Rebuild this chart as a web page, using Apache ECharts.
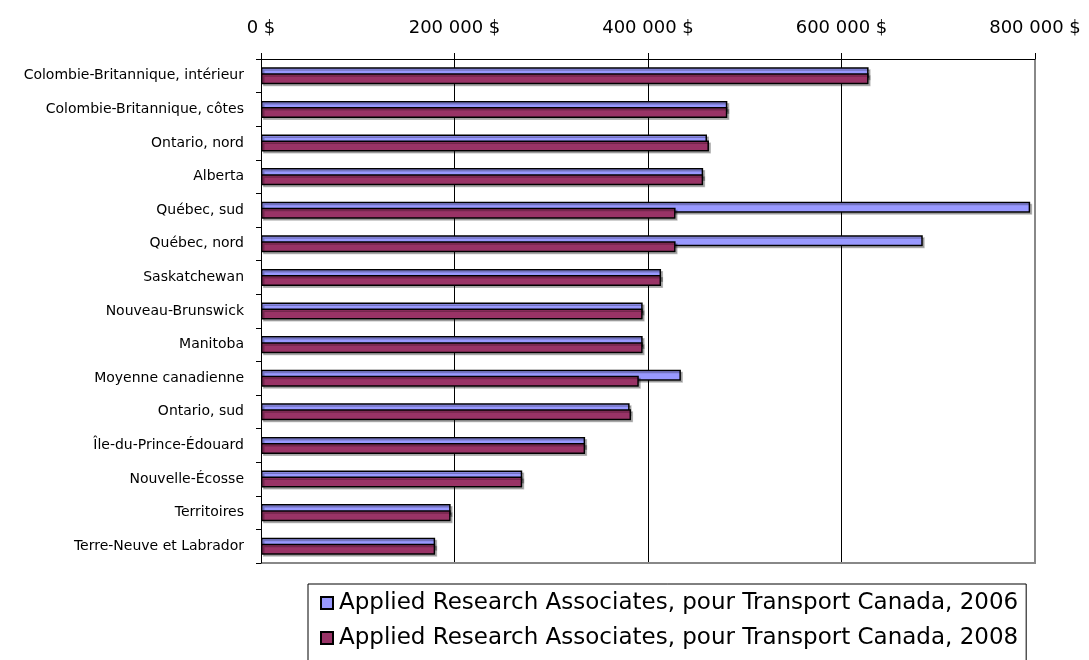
<!DOCTYPE html>
<html>
<head>
<meta charset="utf-8">
<script src="https://cdn.jsdelivr.net/npm/echarts@6/dist/echarts.min.js"></script>
<style>
  html, body { margin: 0; padding: 0; background: #fff; }
  #main { width: 1089px; height: 660px; }
</style>
</head>
<body>
<div id="main"></div>
<script>
// catégories, de haut en bas
const regions = [
  "Colombie-Britannique, intérieur",
  "Colombie-Britannique, côtes",
  "Ontario, nord",
  "Alberta",
  "Québec, sud",
  "Québec, nord",
  "Saskatchewan",
  "Nouveau-Brunswick",
  "Manitoba",
  "Moyenne canadienne",
  "Ontario, sud",
  "Île-du-Prince-Édouard",
  "Nouvelle-Écosse",
  "Territoires",
  "Terre-Neuve et Labrador"
];
const values2006 = [628000, 482000, 461000, 457000, 795000, 684000, 413500, 394500, 394500, 434000, 381000, 335000, 270000, 196000, 180000];
const values2008 = [628000, 482000, 463000, 457000, 428500, 428500, 413500, 394500, 394500, 390500, 382500, 335000, 270000, 196000, 180000];
const seriesNames = [
  "Applied Research Associates, pour Transport Canada, 2006",
  "Applied Research Associates, pour Transport Canada, 2008"
];

const font = "'DejaVu Sans', 'Liberation Sans', Arial, sans-serif";
const chart = echarts.init(document.getElementById("main"));

// style commun des barres (bord noir + petite ombre)
function barStyle(color) {
  return {
    color: color,
    borderColor: "#000",
    borderWidth: 1.5,
    shadowColor: "rgba(0,0,0,0.25)",
    shadowOffsetX: 2,
    shadowOffsetY: 2,
    shadowBlur: 0
  };
}

chart.setOption({
  animation: false,
  textStyle: { fontFamily: font },
  grid: { left: 261, right: 54, top: 59, bottom: 97, containLabel: false, show: false },
  xAxis: {
    type: "value",
    position: "top",
    min: 0,
    max: 800000,
    interval: 200000,
    axisLine: { show: true, lineStyle: { color: "#000", width: 1 } },
    axisTick: { show: true, inside: false, length: 6, lineStyle: { color: "#000" } },
    axisLabel: {
      margin: 22,
      fontSize: 18,
      color: "#000",
      formatter: (v) => (v === 0 ? "0 $" : String(v / 1000) + " 000 $")
    },
    splitLine: { show: true, lineStyle: { color: "#000", width: 1 } }
  },
  yAxis: {
    type: "category",
    data: regions,
    inverse: true,
    axisLine: { show: true, lineStyle: { color: "#000", width: 1 } },
    axisTick: { show: true, length: 5, lineStyle: { color: "#000" } },
    axisLabel: { fontSize: 14, color: "#000", margin: 17 }
  },
  legend: {
    orient: "vertical",
    left: 308,
    top: 584,
    height: 200,
    itemWidth: 12,
    itemHeight: 12,
    itemGap: 11,
    padding: [7, 8, 20, 12],
    borderColor: "#000",
    borderWidth: 1,
    icon: "rect",
    textStyle: { fontSize: 23, lineHeight: 24, color: "#000", padding: [0, 0, 0, 1] },
    data: seriesNames
  },
  series: [
    {
      name: seriesNames[0],
      type: "bar",
      data: values2006,
      barWidth: 11,
      barGap: "-45%",
      itemStyle: barStyle("#9999FF")
    },
    {
      name: seriesNames[1],
      type: "bar",
      data: values2008,
      barWidth: 11,
      itemStyle: barStyle("#993366")
    }
  ]
});
// bordure grise droite et bas de la zone de tracé
chart.setOption({
  graphic: [{
    type: "polyline",
    shape: { points: [[1035, 59], [1035, 563], [261, 563]] },
    style: { stroke: "#888", lineWidth: 2, fill: null },
    z: 0
  }]
});
</script>
</body>
</html>
